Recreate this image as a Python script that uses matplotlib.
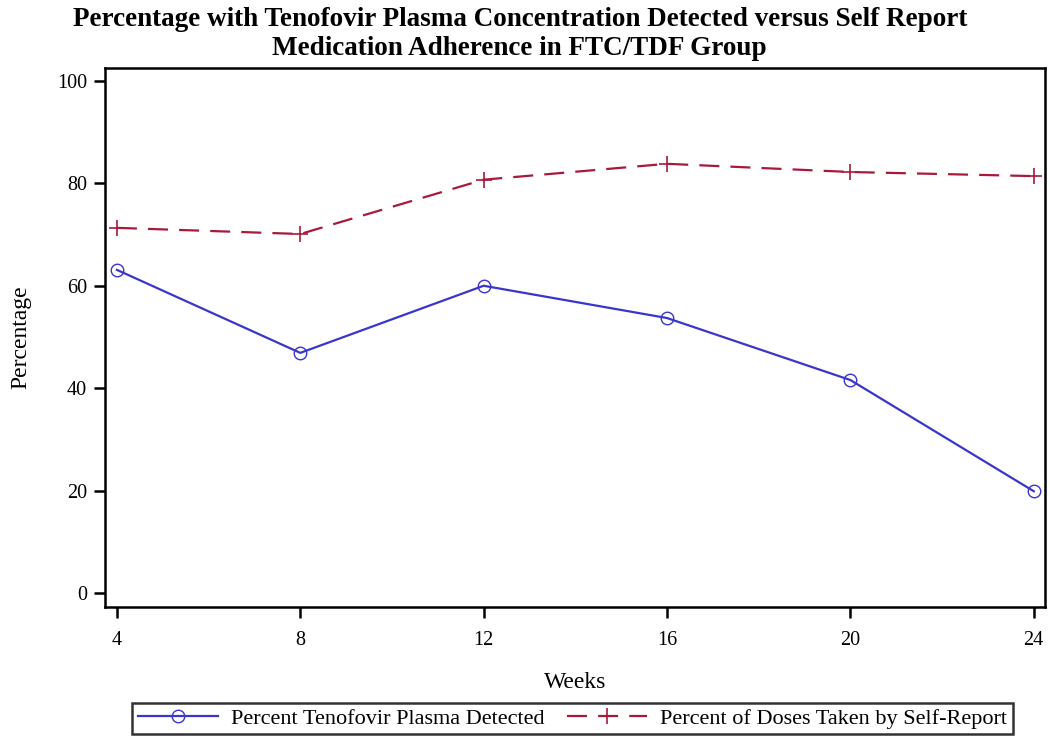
import matplotlib.pyplot as plt
from matplotlib.lines import Line2D

# data
weeks = [4, 8, 12, 16, 20, 24]
plasma_detected = [63.1, 46.9, 60.0, 53.7, 41.6, 19.9]
self_report = [71.3, 70.1, 80.7, 83.8, 82.2, 81.4]
y_ticks = [0, 20, 40, 60, 80, 100]

BLUE = "#3a35cc"
RED = "#a8193a"

plt.rcParams["font.family"] = ["Liberation Serif", "DejaVu Serif"]

fig = plt.figure(figsize=(10.5, 7.43), dpi=100)
ax = fig.add_axes([0.1, 0.183, 0.895, 0.7255])

ax.plot(weeks, plasma_detected, color=BLUE, lw=1.6, marker="o", ms=9,
        mfc="none", mec=BLUE, mew=1.0)
ax.plot(weeks, self_report, color=RED, lw=1.6, dashes=(9, 5), marker="+",
        ms=12, mew=1.2)

ax.set_xlim(3.74, 24.24)
ax.set_ylim(-2.7, 102.5)
ax.set_xticks(weeks)
ax.set_yticks(y_ticks)
ax.tick_params(labelsize=14.5, length=8, width=1.8, direction="out")
ax.tick_params(axis="x", pad=9)
ax.tick_params(axis="y", pad=5)
for s in ax.spines.values():
    s.set_linewidth(1.8)

ax.set_xlabel("Weeks", fontsize=17, labelpad=16)
ax.set_ylabel("Percentage", fontsize=17, labelpad=18)

fig.text(0.495, 0.99, "Percentage with Tenofovir Plasma Concentration Detected versus Self Report\n"
         "Medication Adherence in FTC/TDF Group",
         ha="center", va="top", fontsize=19.5, fontweight="bold", linespacing=1.2)

handles = [
    Line2D([], [], color=BLUE, lw=1.6, marker="o", ms=9, mfc="none", mec=BLUE),
    Line2D([], [], color=RED, lw=1.6, dashes=(9, 5), marker="+", ms=12, mew=1.2),
]
labels = ["Percent Tenofovir Plasma Detected", "Percent of Doses Taken by Self-Report"]
leg = fig.legend(handles, labels, loc="center", bbox_to_anchor=(0.545, 0.033), ncol=2,
                 fontsize=16, frameon=True, fancybox=False, edgecolor="black",
                 handlelength=3.6, handletextpad=0.6, columnspacing=1.0, borderpad=0.25)
leg.get_frame().set_linewidth(1.8)

fig.savefig("out.png", dpi=100)
